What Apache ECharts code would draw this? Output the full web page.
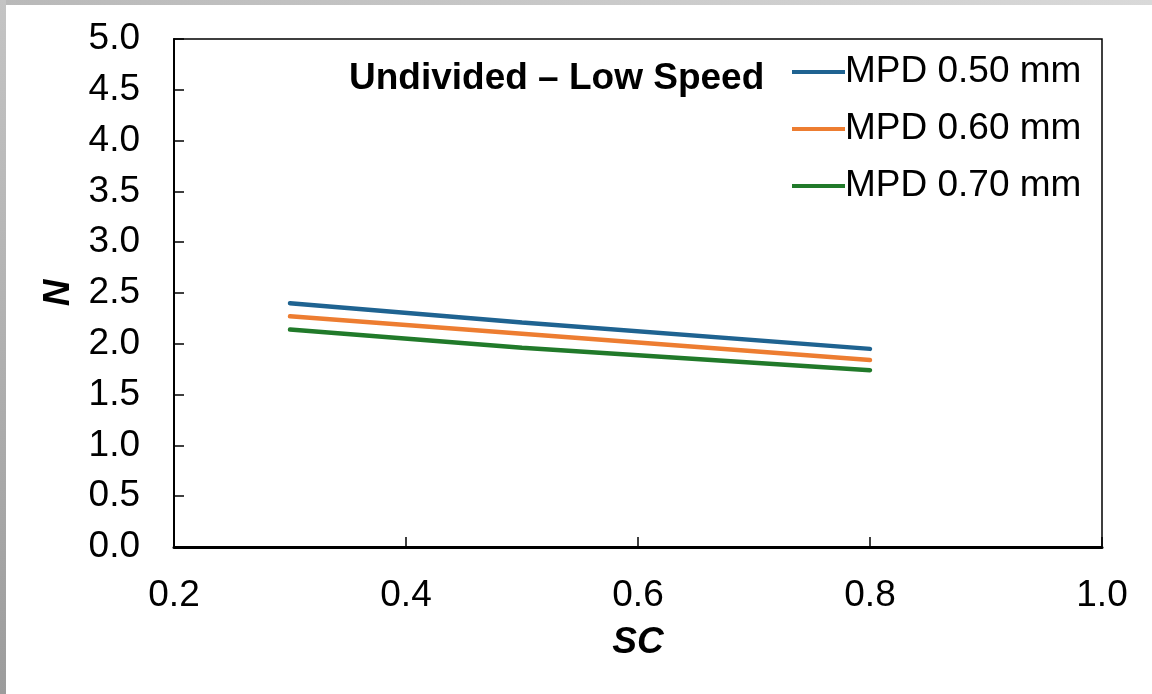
<!DOCTYPE html>
<html>
<head>
<meta charset="utf-8">
<script src="https://cdn.jsdelivr.net/npm/echarts@6/dist/echarts.min.js"></script>
<style>
  html, body { margin: 0; padding: 0; background: #fff; }
  #main { width: 1152px; height: 694px; }
</style>
</head>
<body>
<div id="main"></div>
<script>
// data
var scValues = [0.3, 0.5, 0.8]
var mpd050 = [2.40, 2.21, 1.95]
var mpd060 = [2.27, 2.10, 1.84]
var mpd070 = [2.14, 1.96, 1.74]
var seriesNames = ['MPD 0.50 mm', 'MPD 0.60 mm', 'MPD 0.70 mm']
var seriesColors = ['#1F6391', '#ED7D31', '#217A2A']

var myChart = echarts.init(document.getElementById('main'))

const pairs = (ys) => scValues.map((x, i) => [x, ys[i]])
const font = 'Liberation Sans, Arial, sans-serif'

var option = {
  backgroundColor: '#fff',
  animation: false,
  grid: {
    left: 174, right: 50, top: 39, bottom: 147,
    show: true, borderColor: '#000', borderWidth: 1.5
  },
  title: {
    text: 'Undivided – Low Speed',
    left: 344, top: 55,
    textStyle: { fontFamily: font, fontSize: 37, fontWeight: 'bold', color: '#000' }
  },
  legend: {
    orient: 'vertical',
    left: 787, top: 47,
    itemWidth: 53, itemHeight: 4,
    itemGap: 17,
    icon: 'rect',
    textStyle: { fontFamily: font, fontSize: 37, lineHeight: 40, color: '#000', padding: [0, 0, 0, -5] },
    data: seriesNames
  },
  xAxis: {
    type: 'value',
    min: 0.2, max: 1.0, interval: 0.2,
    name: 'SC',
    nameLocation: 'middle',
    nameGap: 77,
    nameTextStyle: { fontFamily: font, fontSize: 37, fontWeight: 'bold', fontStyle: 'italic', color: '#000' },
    axisLine: { lineStyle: { color: '#000', width: 3 } },
    axisTick: { inside: true, length: 10, lineStyle: { color: '#000', width: 1.5 } },
    axisLabel: { fontFamily: font, fontSize: 37, color: '#000', margin: 30, formatter: v => v.toFixed(1) },
    splitLine: { show: false }
  },
  yAxis: {
    type: 'value',
    min: 0, max: 5, interval: 0.5,
    name: 'N',
    nameLocation: 'middle',
    nameGap: 91,
    nameRotate: 90,
    nameTextStyle: { fontFamily: font, fontSize: 37, fontWeight: 'bold', fontStyle: 'italic', color: '#000' },
    axisLine: { lineStyle: { color: '#000', width: 2 } },
    axisTick: { inside: true, length: 10, lineStyle: { color: '#000', width: 1.5 } },
    axisLabel: { fontFamily: font, fontSize: 37, color: '#000', margin: 34, formatter: v => v.toFixed(1) },
    splitLine: { show: false }
  },
  series: [mpd050, mpd060, mpd070].map((ys, i) => ({
    name: seriesNames[i],
    type: 'line',
    data: pairs(ys),
    symbol: 'none',
    color: seriesColors[i],
    lineStyle: { width: 4.5, color: seriesColors[i], cap: 'round' }
  })),
  graphic: [
    { type: 'rect', left: 0, top: 0, shape: { width: 1152, height: 5 },
      style: { fill: { type: 'linear', x: 0, y: 0, x2: 1, y2: 0,
        colorStops: [{ offset: 0, color: '#b9b9b9' }, { offset: 1, color: '#d9d9d9' }] } } },
    { type: 'rect', left: 0, top: 0, shape: { width: 6, height: 694 },
      style: { fill: { type: 'linear', x: 0, y: 0, x2: 0, y2: 1,
        colorStops: [{ offset: 0, color: '#c4c4c4' }, { offset: 1, color: '#9c9c9c' }] } } }
  ]
}

myChart.setOption(option)
</script>
</body>
</html>
